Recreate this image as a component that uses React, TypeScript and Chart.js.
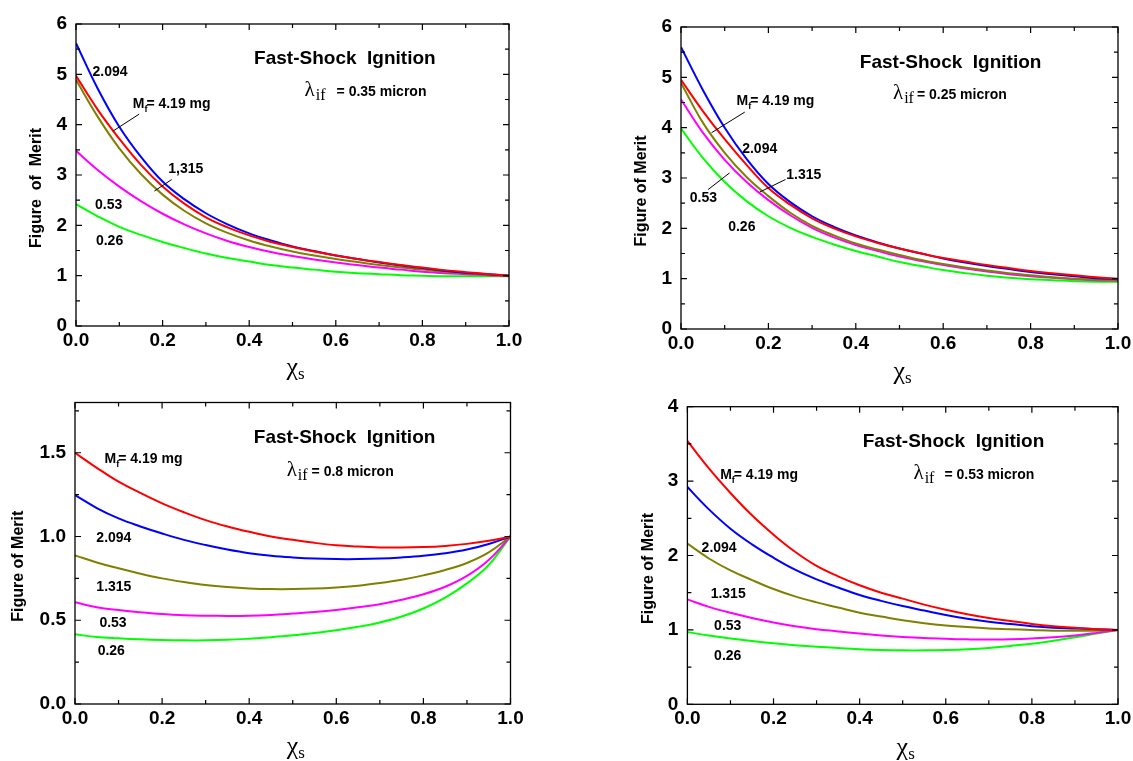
import React, { useEffect, useRef } from 'react';
import { Chart, registerables } from 'chart.js';
Chart.register(...registerables);

// ---------- data ----------
const xS = [0, 0.05, 0.1, 0.15, 0.2, 0.25, 0.3, 0.35, 0.4, 0.45, 0.5, 0.55, 0.6, 0.65, 0.7, 0.75, 0.8, 0.85, 0.9, 0.95, 1.0];

const seriesNames = ['4.19', '2.094', '1.315', '0.53', '0.26'];
const seriesColors = ['#ff0000', '#0000ff', '#808000', '#ff00ff', '#00ff00'];

// lambda_if = 0.35 micron
const a_red = [4.97, 4.3, 3.72, 3.2, 2.77, 2.43, 2.16, 1.96, 1.8, 1.67, 1.57, 1.48, 1.4, 1.33, 1.27, 1.21, 1.16, 1.11, 1.07, 1.035, 1.0];
const a_blue = [5.62, 4.72, 3.96, 3.36, 2.87, 2.52, 2.24, 2.02, 1.84, 1.7, 1.58, 1.49, 1.4, 1.33, 1.26, 1.2, 1.15, 1.1, 1.06, 1.03, 1.0];
const a_olive = [4.89, 4.16, 3.53, 3.02, 2.61, 2.29, 2.04, 1.85, 1.7, 1.58, 1.48, 1.4, 1.33, 1.27, 1.21, 1.16, 1.12, 1.08, 1.05, 1.02, 1.0];
const a_magenta = [3.48, 3.1, 2.77, 2.48, 2.23, 2.02, 1.84, 1.69, 1.57, 1.47, 1.39, 1.32, 1.26, 1.21, 1.16, 1.12, 1.08, 1.05, 1.03, 1.01, 1.0];
const a_green = [2.42, 2.18, 1.97, 1.81, 1.67, 1.55, 1.44, 1.35, 1.28, 1.21, 1.16, 1.12, 1.08, 1.05, 1.03, 1.01, 1.0, 0.99, 0.99, 0.99, 0.99];

// lambda_if = 0.25 micron
const b_red = [4.95, 4.33, 3.77, 3.26, 2.8, 2.47, 2.2, 2.0, 1.84, 1.71, 1.6, 1.5, 1.41, 1.34, 1.27, 1.21, 1.15, 1.11, 1.07, 1.03, 1.0];
const b_blue = [5.6, 4.75, 4.0, 3.38, 2.88, 2.52, 2.24, 2.03, 1.86, 1.72, 1.6, 1.5, 1.4, 1.32, 1.25, 1.19, 1.13, 1.09, 1.05, 1.01, 0.99];
const b_olive = [4.89, 4.1, 3.5, 3.02, 2.64, 2.31, 2.05, 1.86, 1.7, 1.58, 1.47, 1.37, 1.29, 1.22, 1.16, 1.11, 1.07, 1.03, 1.0, 0.98, 0.97];
const b_magenta = [4.56, 3.9, 3.36, 2.92, 2.56, 2.26, 2.01, 1.82, 1.67, 1.55, 1.44, 1.35, 1.27, 1.2, 1.14, 1.09, 1.05, 1.02, 0.99, 0.97, 0.96];
const b_green = [3.98, 3.4, 2.92, 2.54, 2.24, 2.01, 1.83, 1.68, 1.55, 1.44, 1.33, 1.25, 1.17, 1.11, 1.06, 1.02, 0.99, 0.97, 0.95, 0.94, 0.94];

// lambda_if = 0.8 micron
const c_red = [1.5, 1.41, 1.327, 1.26, 1.198, 1.145, 1.098, 1.06, 1.028, 1.0, 0.98, 0.962, 0.948, 0.94, 0.935, 0.934, 0.937, 0.944, 0.956, 0.974, 1.0];
const c_blue = [1.247, 1.17, 1.108, 1.06, 1.018, 0.98, 0.949, 0.922, 0.9, 0.885, 0.875, 0.868, 0.865, 0.865, 0.868, 0.875, 0.885, 0.9, 0.922, 0.955, 1.0];
const c_olive = [0.887, 0.845, 0.81, 0.778, 0.75, 0.728, 0.71, 0.698, 0.69, 0.686, 0.686, 0.689, 0.696, 0.706, 0.722, 0.742, 0.768, 0.8, 0.842, 0.905, 1.0];
const c_magenta = [0.607, 0.578, 0.561, 0.548, 0.537, 0.53, 0.527, 0.526, 0.527, 0.532, 0.54, 0.549, 0.561, 0.577, 0.596, 0.622, 0.655, 0.7, 0.765, 0.86, 1.0];
const c_green = [0.416, 0.4, 0.392, 0.386, 0.382, 0.38, 0.38, 0.383, 0.39, 0.399, 0.41, 0.424, 0.44, 0.461, 0.487, 0.522, 0.57, 0.635, 0.72, 0.83, 1.0];

// lambda_if = 0.53 micron
const d_red = [3.54, 3.17, 2.84, 2.54, 2.28, 2.05, 1.86, 1.72, 1.6, 1.5, 1.42, 1.34, 1.27, 1.21, 1.16, 1.12, 1.08, 1.05, 1.03, 1.01, 1.0];
const d_blue = [2.92, 2.62, 2.36, 2.15, 1.97, 1.81, 1.68, 1.57, 1.47, 1.39, 1.32, 1.26, 1.2, 1.15, 1.11, 1.08, 1.05, 1.03, 1.02, 1.01, 1.0];
const d_olive = [2.16, 1.96, 1.8, 1.67, 1.55, 1.45, 1.37, 1.3, 1.23, 1.18, 1.13, 1.09, 1.06, 1.04, 1.02, 1.01, 1.0, 0.99, 0.99, 0.99, 1.0];
const d_magenta = [1.41, 1.31, 1.23, 1.16, 1.1, 1.05, 1.01, 0.98, 0.95, 0.925, 0.905, 0.89, 0.88, 0.873, 0.87, 0.875, 0.885, 0.9, 0.925, 0.96, 1.0];
const d_green = [0.97, 0.925, 0.885, 0.85, 0.82, 0.795, 0.775, 0.756, 0.74, 0.73, 0.725, 0.725, 0.73, 0.74, 0.758, 0.785, 0.815, 0.855, 0.9, 0.95, 1.0];

// ticks
const xTicks = [0, 0.2, 0.4, 0.6, 0.8, 1.0];
const xTickLabels = ['0.0', '0.2', '0.4', '0.6', '0.8', '1.0'];
const xMinor = [0.1, 0.3, 0.5, 0.7, 0.9];

const yTicks6 = [0, 1, 2, 3, 4, 5, 6];
const yTickLabels6 = ['0', '1', '2', '3', '4', '5', '6'];
const yMinor6 = [0.5, 1.5, 2.5, 3.5, 4.5, 5.5];

const yTicks18 = [0, 0.5, 1.0, 1.5];
const yTickLabels18 = ['0.0', '0.5', '1.0', '1.5'];
const yMinor18 = [0.25, 0.75, 1.25, 1.75];

const yTicks4 = [0, 1, 2, 3, 4];
const yTickLabels4 = ['0', '1', '2', '3', '4'];
const yMinor4 = [0.5, 1.5, 2.5, 3.5];

// ---------- layout / styling ----------
const SANS = '"Liberation Sans", Arial, Helvetica, sans-serif';
const SERIF = '"Liberation Serif", "Times New Roman", serif';

type Label = { text: string; x: number; y: number; mf?: boolean };
type Leader = [number, number, number, number];
type Panel = {
  left: number; top: number; width: number; height: number;
  yAxisW: number; padTop: number; padRight: number; xAxisH: number;
  yMax: number; yTicks: number[]; yTickLabels: string[]; yMinor: number[];
  values: number[][];
  yTitle: string; yTitleOff: number; xTitleOff: number;
  title: [number, number]; lambda: [number, number]; lambdaGap: number; lambdaText: string;
  labels: Label[]; leaders: Leader[];
};

const panels: Panel[] = [
  {
    left: 0, top: 0, width: 566, height: 400,
    yAxisW: 76, padTop: 24, padRight: 57, xAxisH: 74,
    yMax: 6, yTicks: yTicks6, yTickLabels: yTickLabels6, yMinor: yMinor6,
    values: [a_red, a_blue, a_olive, a_magenta, a_green],
    yTitle: 'Figure  of  Merit', yTitleOff: 39, xTitleOff: 49,
    title: [0.621, 5.31], lambda: [0.528, 4.66], lambdaGap: 11, lambdaText: '= 0.35 micron',
    labels: [
      { text: '2.094', x: 0.038, y: 5.06 },
      { text: '= 4.19 mg', x: 0.131, y: 4.43, mf: true },
      { text: '1,315', x: 0.213, y: 3.13 },
      { text: '0.53', x: 0.044, y: 2.43 },
      { text: '0.26', x: 0.046, y: 1.70 },
    ],
    leaders: [[0.146, 4.21, 0.085, 3.87], [0.221, 2.91, 0.181, 2.68]],
  },
  {
    left: 566, top: 0, width: 567, height: 400,
    yAxisW: 115, padTop: 27, padRight: 15, xAxisH: 71,
    yMax: 6, yTicks: yTicks6, yTickLabels: yTickLabels6, yMinor: yMinor6,
    values: [b_red, b_blue, b_olive, b_magenta, b_green],
    yTitle: 'Figure of Merit', yTitleOff: 39, xTitleOff: 50,
    title: [0.617, 5.29], lambda: [0.485, 4.66], lambdaGap: 3, lambdaText: '= 0.25 micron',
    labels: [
      { text: '= 4.19 mg', x: 0.127, y: 4.54, mf: true },
      { text: '2.094', x: 0.14, y: 3.6 },
      { text: '1.315', x: 0.241, y: 3.07 },
      { text: '0.53', x: 0.02, y: 2.62 },
      { text: '0.26', x: 0.108, y: 2.04 },
    ],
    leaders: [[0.146, 4.31, 0.07, 3.9], [0.239, 2.97, 0.18, 2.72], [0.062, 2.77, 0.111, 3.1]],
  },
  {
    left: 0, top: 380, width: 566, height: 381,
    yAxisW: 75, padTop: 22.5, padRight: 55.5, xAxisH: 57,
    yMax: 1.8, yTicks: yTicks18, yTickLabels: yTickLabels18, yMinor: yMinor18,
    values: [c_red, c_blue, c_olive, c_magenta, c_green],
    yTitle: 'Figure of Merit', yTitleOff: 56, xTitleOff: 50,
    title: [0.619, 1.591], lambda: [0.486, 1.392], lambdaGap: 4, lambdaText: '= 0.8 micron',
    labels: [
      { text: '= 4.19 mg', x: 0.068, y: 1.466, mf: true },
      { text: '2.094', x: 0.049, y: 0.998 },
      { text: '1.315', x: 0.049, y: 0.704 },
      { text: '0.53', x: 0.056, y: 0.491 },
      { text: '0.26', x: 0.052, y: 0.322 },
    ],
    leaders: [],
  },
  {
    left: 566, top: 380, width: 567, height: 381,
    yAxisW: 121.4, padTop: 26.7, padRight: 15, xAxisH: 56.7,
    yMax: 4, yTicks: yTicks4, yTickLabels: yTickLabels4, yMinor: yMinor4,
    values: [d_red, d_blue, d_olive, d_magenta, d_green],
    yTitle: 'Figure of Merit', yTitleOff: 39, xTitleOff: 51,
    title: [0.618, 3.53], lambda: [0.525, 3.1], lambdaGap: 10, lambdaText: '= 0.53 micron',
    labels: [
      { text: '= 4.19 mg', x: 0.076, y: 3.1, mf: true },
      { text: '2.094', x: 0.033, y: 2.12 },
      { text: '1.315', x: 0.054, y: 1.5 },
      { text: '0.53', x: 0.062, y: 1.06 },
      { text: '0.26', x: 0.062, y: 0.66 },
    ],
    leaders: [],
  },
];

function makeDecor(p: Panel) {
  return {
    id: 'decor',
    afterDraw(chart: any) {
      const { ctx, chartArea: a } = chart;
      const sx = chart.scales.x;
      const sy = chart.scales.y;
      ctx.save();
      ctx.strokeStyle = '#000';
      ctx.fillStyle = '#000';
      ctx.lineWidth = 1.3;
      ctx.strokeRect(a.left, a.top, a.right - a.left, a.bottom - a.top);
      ctx.lineWidth = 1.2;
      const xt = (v: number, len: number) => {
        const px = sx.getPixelForValue(v);
        ctx.beginPath();
        ctx.moveTo(px, a.bottom); ctx.lineTo(px, a.bottom - len);
        ctx.moveTo(px, a.top); ctx.lineTo(px, a.top + len);
        ctx.stroke();
      };
      const yt = (v: number, len: number) => {
        const py = sy.getPixelForValue(v);
        ctx.beginPath();
        ctx.moveTo(a.left, py); ctx.lineTo(a.left + len, py);
        ctx.moveTo(a.right, py); ctx.lineTo(a.right - len, py);
        ctx.stroke();
      };
      xTicks.forEach((v) => xt(v, 6));
      xMinor.forEach((v) => xt(v, 4));
      p.yTicks.forEach((v) => yt(v, 6));
      p.yMinor.forEach((v) => yt(v, 4));

      // y title
      ctx.save();
      ctx.translate(a.left - p.yTitleOff, (a.top + a.bottom) / 2 + 13);
      ctx.rotate(-Math.PI / 2);
      ctx.font = `bold 16px ${SANS}`;
      ctx.textAlign = 'center';
      ctx.textBaseline = 'middle';
      ctx.fillText(p.yTitle, 0, 0);
      ctx.restore();

      // x title chi_s
      ctx.textAlign = 'left';
      ctx.textBaseline = 'alphabetic';
      ctx.font = `26px ${SERIF}`;
      const wChi = ctx.measureText('\u03c7').width;
      ctx.font = `17px ${SERIF}`;
      const wS = ctx.measureText('s').width;
      const cx = (a.left + a.right) / 2 + 3;
      const by = a.bottom + p.xTitleOff;
      const x0 = cx - (wChi + wS) / 2;
      ctx.font = `26px ${SERIF}`;
      ctx.fillText('\u03c7', x0, by);
      ctx.font = `17px ${SERIF}`;
      ctx.fillText('s', x0 + wChi, by + 4);

      // main title
      ctx.font = `bold 19px ${SANS}`;
      ctx.textAlign = 'center';
      ctx.textBaseline = 'middle';
      ctx.fillText('Fast-Shock  Ignition', sx.getPixelForValue(p.title[0]), sy.getPixelForValue(p.title[1]));

      // lambda line
      ctx.textAlign = 'left';
      ctx.textBaseline = 'alphabetic';
      let lx = sx.getPixelForValue(p.lambda[0]);
      const lb = sy.getPixelForValue(p.lambda[1]) + 5;
      ctx.font = `21px ${SERIF}`;
      ctx.fillText('\u03bb', lx, lb);
      lx += ctx.measureText('\u03bb').width + 1;
      ctx.font = `16px ${SERIF}`;
      ctx.fillText('if', lx, lb + 4);
      lx += ctx.measureText('if').width + p.lambdaGap;
      ctx.font = `bold 14px ${SANS}`;
      ctx.fillText(p.lambdaText, lx, lb);

      // curve labels
      p.labels.forEach((l) => {
        let px = sx.getPixelForValue(l.x);
        const py = sy.getPixelForValue(l.y) + 5;
        ctx.font = `bold 14px ${SANS}`;
        if (l.mf) {
          ctx.fillText('M', px, py);
          px += ctx.measureText('M').width;
          ctx.font = `bold 9px ${SANS}`;
          ctx.fillText('f', px, py + 4);
          px += ctx.measureText('f').width - 1;
          ctx.font = `bold 14px ${SANS}`;
        }
        ctx.fillText(l.text, px, py);
      });

      // leader lines
      ctx.lineWidth = 1;
      p.leaders.forEach(([x1, y1, x2, y2]) => {
        ctx.beginPath();
        ctx.moveTo(sx.getPixelForValue(x1), sy.getPixelForValue(y1));
        ctx.lineTo(sx.getPixelForValue(x2), sy.getPixelForValue(y2));
        ctx.stroke();
      });
      ctx.restore();
    },
  };
}

function makeChart(canvas: HTMLCanvasElement, p: Panel) {
  const datasets = p.values.map((vals, k) => ({
    label: seriesNames[k],
    data: xS.map((x, i) => ({ x, y: vals[i] })),
    borderColor: seriesColors[k],
    backgroundColor: seriesColors[k],
    borderWidth: 2,
    pointRadius: 0,
    fill: false,
    tension: 0.4,
  }));
  const tickFont = { family: SANS, size: 19, weight: 'bold' as const };
  return new Chart(canvas, {
    type: 'line',
    data: { datasets },
    options: {
      animation: false,
      responsive: false,
      layout: { padding: { left: 0, top: p.padTop, right: p.padRight, bottom: 0 } },
      plugins: { legend: { display: false }, tooltip: { enabled: false }, title: { display: false } },
      scales: {
        x: {
          type: 'linear', min: 0, max: 1,
          grid: { display: false, drawTicks: false },
          border: { display: false },
          ticks: {
            font: tickFont, color: '#000', padding: 3, autoSkip: false, maxRotation: 0,
            callback: (v: any) => { const i = xTicks.indexOf(Number(v)); return i >= 0 ? xTickLabels[i] : ''; },
          },
          afterBuildTicks: (s: any) => { s.ticks = xTicks.map((v) => ({ value: v })); },
          afterFit: (s: any) => { s.height = p.xAxisH; s.paddingLeft = 0; s.paddingRight = 0; },
        },
        y: {
          type: 'linear', min: 0, max: p.yMax,
          grid: { display: false, drawTicks: false },
          border: { display: false },
          ticks: {
            font: tickFont, color: '#000', padding: 9, autoSkip: false,
            callback: (v: any) => { const i = p.yTicks.indexOf(Number(v)); return i >= 0 ? p.yTickLabels[i] : ''; },
          },
          afterBuildTicks: (s: any) => { s.ticks = p.yTicks.map((v) => ({ value: v })); },
          afterFit: (s: any) => { s.width = p.yAxisW; s.paddingTop = 0; s.paddingBottom = 0; },
        },
      },
    } as any,
    plugins: [makeDecor(p)],
  });
}

function PanelChart({ p }: { p: Panel }) {
  const ref = useRef<HTMLCanvasElement | null>(null);
  useEffect(() => {
    if (!ref.current) return;
    const c = makeChart(ref.current, p);
    return () => c.destroy();
  }, [p]);
  return (
    <canvas
      ref={ref}
      width={p.width}
      height={p.height}
      style={{ position: 'absolute', left: p.left, top: p.top, width: p.width, height: p.height }}
    />
  );
}

export default function App() {
  return (
    <div style={{ position: 'absolute', left: 0, top: 0, width: 1133, height: 761, background: '#fff' }}>
      {panels.map((p, i) => (
        <PanelChart key={i} p={p} />
      ))}
    </div>
  );
}
